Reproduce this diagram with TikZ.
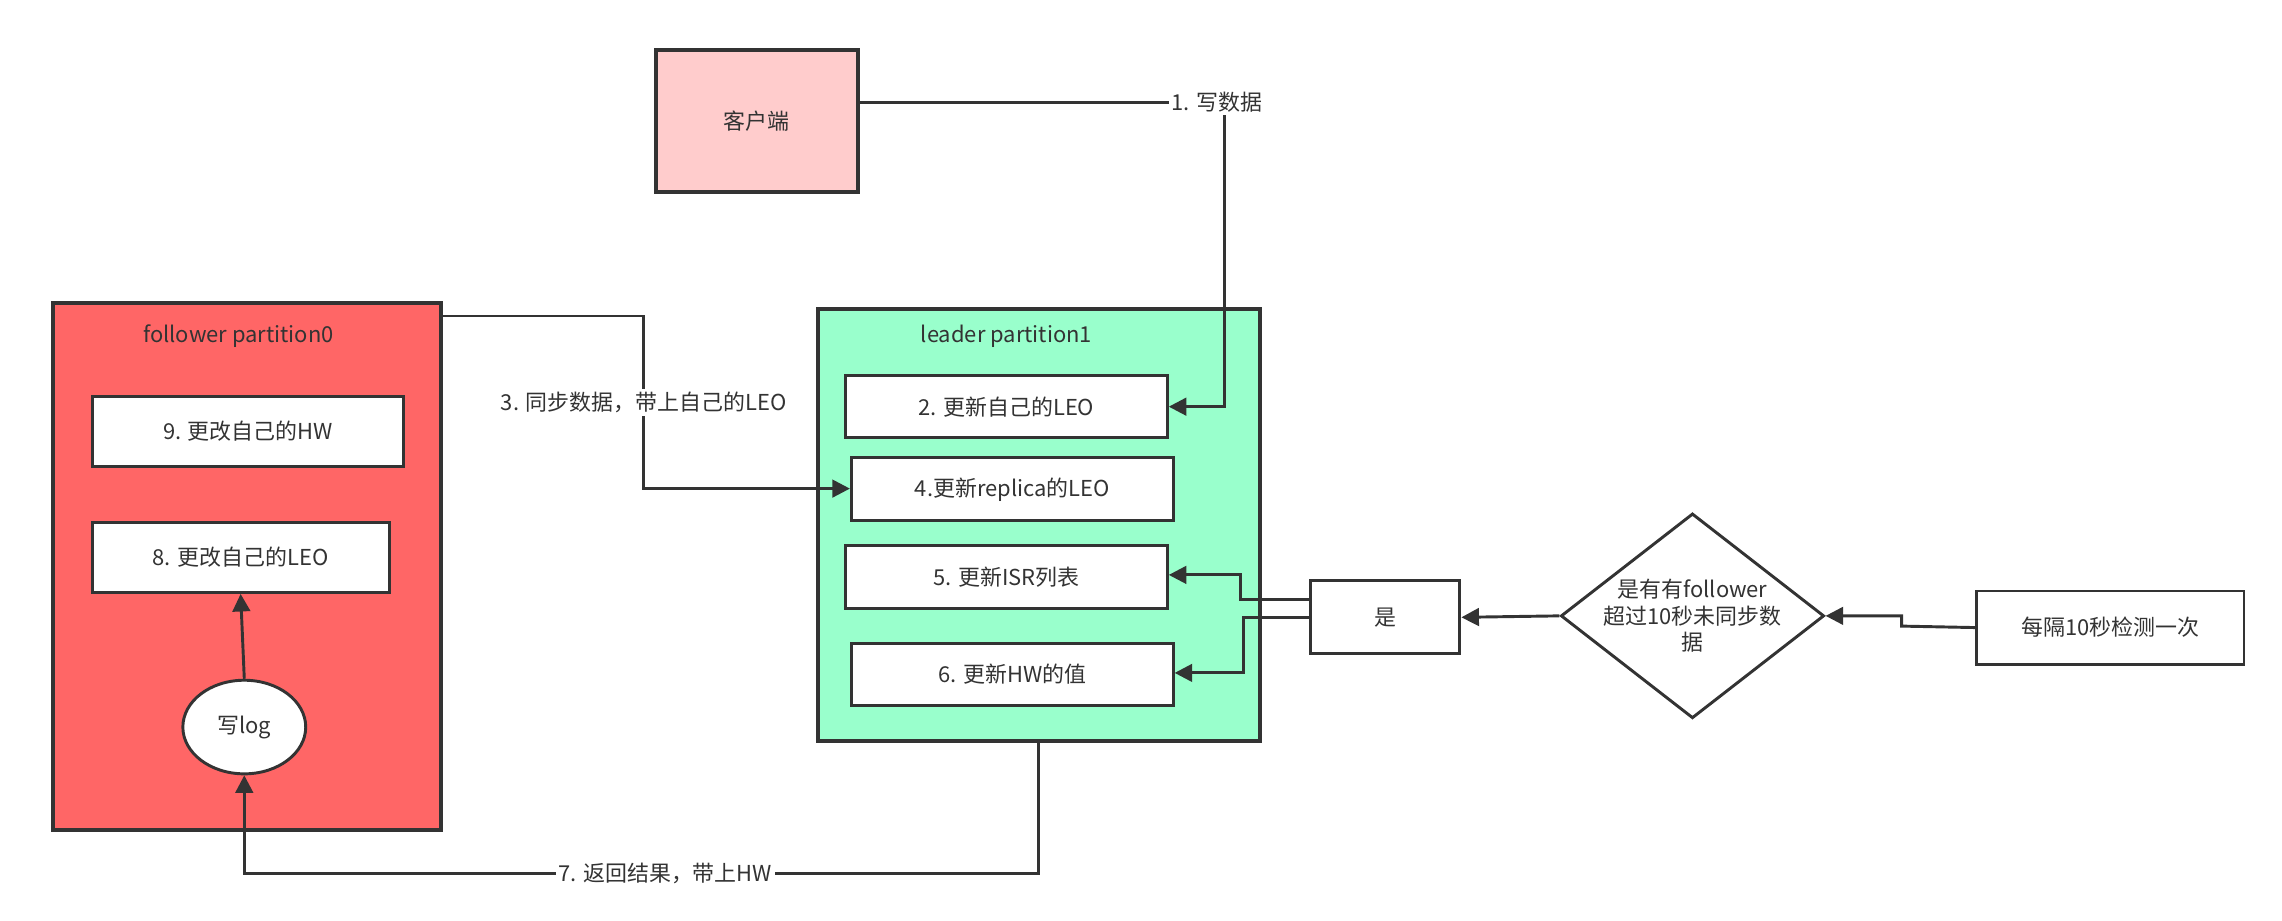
\documentclass[tikz,border=0pt]{standalone}
\usepackage{fontspec}
\setmainfont{Noto Sans CJK SC}
\usetikzlibrary{shapes.geometric, arrows.meta}
\definecolor{clientpink}{HTML}{FFCCCC}
\definecolor{followred}{HTML}{FF6666}
\definecolor{leadgreen}{HTML}{99FFCC}
\definecolor{ink}{HTML}{333333}
\tikzset{
  box/.style={rectangle, draw=ink, line width=1pt, fill=white, anchor=north west, inner sep=0pt},
  part/.style={rectangle, draw=ink, line width=1.4pt, anchor=north west, inner sep=0pt},
  line/.style={draw=ink, line width=1pt, -{Triangle[length=6pt,width=6pt]}},
  plain/.style={draw=ink, line width=1pt},
  lbl/.style={fill=white, inner sep=1pt, text=ink}
}
\begin{document}
\begin{tikzpicture}[x=0.5pt, y=-0.5pt, font=\fontsize{7.5}{9}\selectfont, text=ink]
\useasboundingbox (0,0) rectangle (1560,629);
% nodes
\node [part, fill=clientpink, minimum width=69pt, minimum height=48.5pt] (client) at (447,33) {};
\node at (client.center) {客户端};
\node [part, fill=followred, minimum width=132.5pt, minimum height=180pt] (follow) at (35,206) {};
\node at (163,230) {follower partition0};
\node [box, minimum width=106.5pt, minimum height=24pt] (hw9) at (62,270) {};
\node at (hw9.center) {9. 更改自己的HW};
\node [box, minimum width=101.5pt, minimum height=24pt] (leo8) at (62,356) {};
\node at (leo8.center) {8. 更改自己的LEO};
\node [ellipse, draw=ink, line width=1pt, fill=white, minimum width=42pt, minimum height=32pt, inner sep=0pt] (log) at (167,497) {写log};
\node [part, fill=leadgreen, minimum width=151pt, minimum height=147.5pt] (lead) at (558,210) {};
\node at (688,230) {leader partition1};
\node [box, minimum width=110pt, minimum height=21pt] (b2) at (577,256) {};
\node at (b2.center) {2. 更新自己的LEO};
\node [box, minimum width=110pt, minimum height=21.5pt] (b4) at (581,312) {};
\node at (b4.center) {4.更新replica的LEO};
\node [box, minimum width=110pt, minimum height=21.5pt] (b5) at (577,372) {};
\node at (b5.center) {5. 更新ISR列表};
\node [box, minimum width=110pt, minimum height=21pt] (b6) at (581,439) {};
\node at (b6.center) {6. 更新HW的值};
\node [box, minimum width=51pt, minimum height=25pt] (yes) at (895,396) {};
\node at (yes.center) {是};
\node [diamond, draw=ink, line width=1pt, fill=white, minimum width=90pt, minimum height=70pt, inner sep=0pt] (dec) at (1157,421) {};
\node [align=center] at (dec.center) {是有有follower\\超过10秒未同步数\\据};
\node [box, minimum width=91.5pt, minimum height=25pt] (every) at (1350,403) {};
\node at (every.center) {每隔10秒检测一次};
% coordinates for bends
\coordinate (c1) at (837,70);
\coordinate (c2) at (837,278);
% edges
\path [line] (client.east |- c1) -- node [lbl, pos=0.98] {1. 写数据} (c1) -- (c2) -- (b2.east |- c2);
\path [line] (follow.north east |- 0,216) -- (440,216) -- node [lbl] {3. 同步数据，带上自己的LEO} (440,334) -- (b4.west |- 0,334);
\path [line] (log.north) -- (leo8.south);
\path [line] (lead.south -| 710,0) -- (710,597) -- node [lbl, pos=0.47] {7. 返回结果，带上HW} (167,597) -- (log.south);
\path [line] (every.west) -- (1300,428) -- (1300,421) -- (dec.east);
\path [line] (dec.west) -- (yes.east);
\path [line] (yes.west |- 0,410) -- (848,410) -- (848,393) -- (b5.east |- 0,393);
\path [line] (yes.west |- 0,422) -- (850,422) -- (850,460) -- (b6.east |- 0,460);
\end{tikzpicture}
\end{document}
